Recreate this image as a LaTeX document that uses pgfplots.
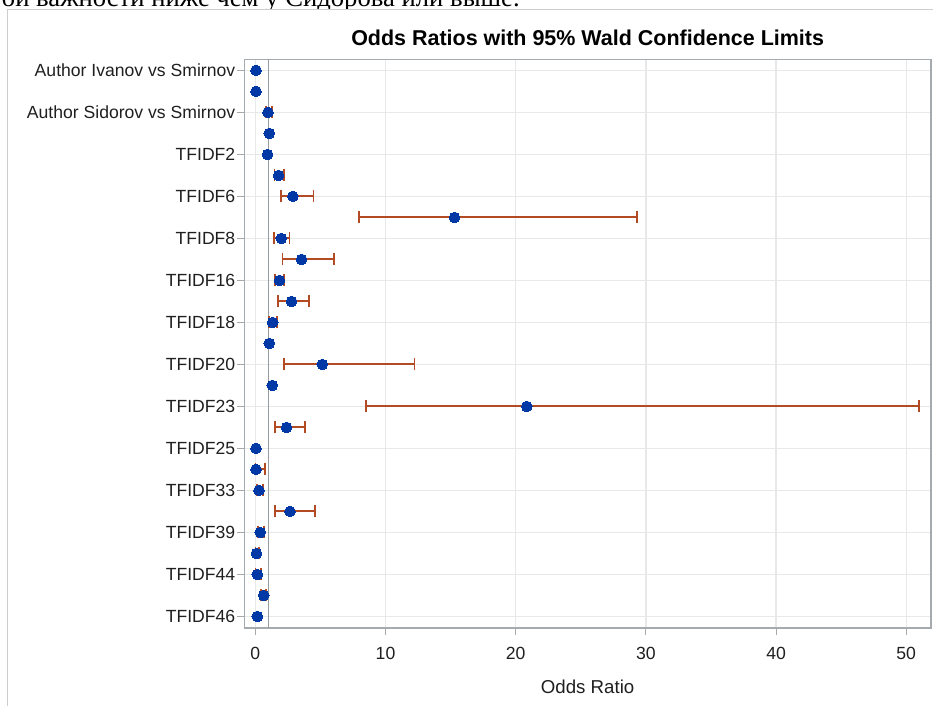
\documentclass[border=0pt]{standalone}
\usepackage{pgfplots}
\pgfplotsset{compat=1.18}
\usepackage{pgfplotstable}
\usepackage{fontspec}
\setmainfont{Liberation Sans}
\newfontfamily\serifcyr{Liberation Serif}
\definecolor{dotc}{RGB}{0,57,166}
\definecolor{errc}{RGB}{178,74,36}
\definecolor{gridc}{RGB}{232,232,232}
\definecolor{framec}{RGB}{165,170,175}
\definecolor{refc}{RGB}{150,155,160}
\definecolor{outc}{RGB}{205,205,205}
\pgfplotstableread{
row est
0 0.05
1 0.05
2 0.97
3 1.07
4 0.94
5 1.78
6 2.88
7 15.3
8 1.99
9 3.55
10 1.86
11 2.78
12 1.33
13 1.07
14 5.14
15 1.30
16 20.85
17 2.40
18 0.05
19 0.05
20 0.28
21 2.66
22 0.38
23 0.08
24 0.15
25 0.64
26 0.15
}\pts
\pgfplotstableread{
row est lo hi
2 0.97 0.82 1.30
5 1.78 1.48 2.20
6 2.88 1.97 4.47
7 15.3 7.96 29.3
8 1.99 1.43 2.63
9 3.55 2.09 6.02
10 1.86 1.51 2.22
11 2.78 1.74 4.12
12 1.33 1.07 1.68
14 5.14 2.20 12.23
16 20.85 8.51 50.96
17 2.40 1.51 3.81
19 0.05 0.01 0.72
20 0.28 0.12 0.58
21 2.66 1.51 4.56
22 0.38 0.18 0.66
23 0.08 0.01 0.30
24 0.15 0.02 0.42
25 0.64 0.43 0.82
}\ci
\begin{document}
\begin{tikzpicture}
\begin{scope}[x=0.75pt,y=0.75pt,shift={(-244.3,-78)}]
\useasboundingbox (0,0) rectangle (933,706);
\draw[outc, line width=1.1pt] (7.5,0) -- (7.5,696.5) -- (933,696.5);
\begin{scope}
\clip (0,697.3) rectangle (933,706);
\node[anchor=base east, inner sep=0, font=\serifcyr\fontsize{20}{22}\selectfont] at (520,699.5) {ой важности ниже чем у Сидорова или выше.};
\end{scope}
\end{scope}
\begin{axis}[
  anchor=south west,
  scale only axis, width=515pt, height=426.4pt,
  xmin=-0.85, xmax=51.9, ymin=-0.52, ymax=26.55, y dir=reverse,
  xtick={0,10,...,50}, ytick={0,2,...,26},
  yticklabels={Author Ivanov vs Smirnov, Author Sidorov vs Smirnov, TFIDF2, TFIDF6, TFIDF8, TFIDF16, TFIDF18, TFIDF20, TFIDF23, TFIDF25, TFIDF33, TFIDF39, TFIDF44, TFIDF46},
  xtick pos=lower, ytick pos=left,
  tick align=outside, major tick length=5.25pt,
  tick style={framec, line width=0.8pt},
  grid=major, major grid style={gridc, line width=1pt},
  axis line style={framec, line width=1pt},
  /pgf/number format/assume math mode=true,
  ticklabel style={font=\fontsize{13.2}{15}\selectfont, text=black!88},
  yticklabel style={xshift=2pt},
  xticklabel style={anchor=base, yshift=-18.5pt},
  xlabel={Odds Ratio},
  xlabel style={at={(axis description cs:0.5,0)}, anchor=base, yshift=-48.75pt, font=\fontsize{14}{16}\selectfont, text=black!88},
  title={Odds Ratios with 95\% Wald Confidence Limits},
  title style={at={(axis description cs:0.5,1)}, anchor=base, yshift=4.5pt, font=\fontsize{16.1}{18}\selectfont\bfseries},
  clip=false,
]
\addplot[refc, line width=1.1pt, forget plot] coordinates {(1,-0.52) (1,26.55)};
\addplot[draw=none, forget plot,
  error bars/.cd, x dir=both, x explicit,
  error bar style={draw=errc, solid, line width=1.5pt},
  error mark options={draw=errc, solid, line width=1.3pt, mark size=4.5pt, rotate=90}]
  table[x=est, y=row, x error plus expr=\thisrow{hi}-\thisrow{est}, x error minus expr=\thisrow{est}-\thisrow{lo}] {\ci};
\addplot[only marks, mark=*, mark size=4pt, mark options={fill=dotc, draw=dotc, line width=0pt}] table[x=est, y=row] {\pts};
\end{axis}
\end{tikzpicture}
\end{document}
